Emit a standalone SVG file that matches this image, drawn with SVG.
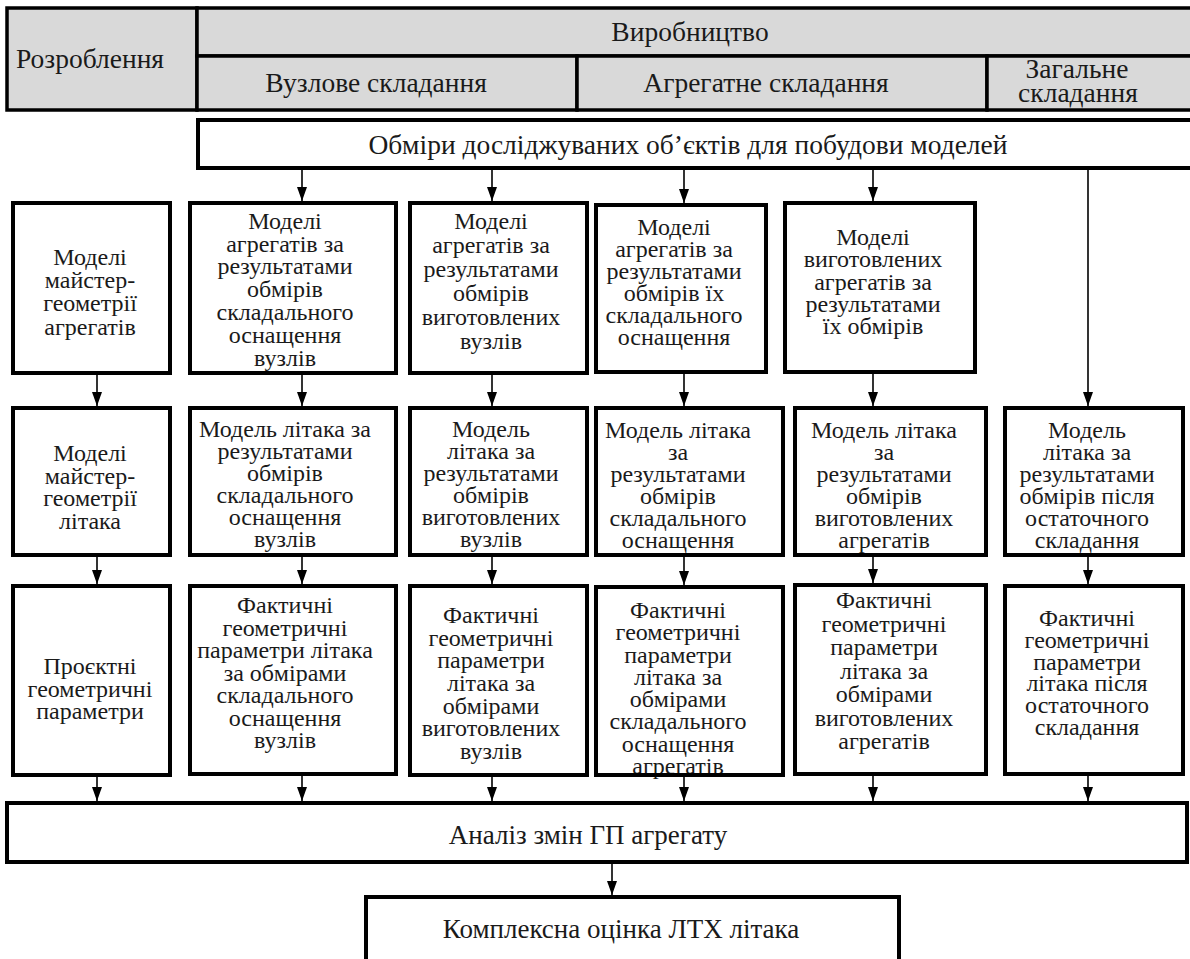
<svg xmlns="http://www.w3.org/2000/svg" width="1190" height="959" viewBox="0 0 1190 959" font-family="Liberation Serif, serif">
<style>
text{font-family:"Liberation Serif",serif;fill:#1a1a1a;text-anchor:middle}
.h{font-size:27.5px}
.t{font-size:24px}
.big{font-size:27px}
.hc{fill:#d9d9d9;stroke:#000;stroke-width:3.5}
.box{fill:#fff;stroke:#000;stroke-width:4}
.boxo{fill:none;stroke:#000;stroke-width:4}
.c{stroke:#000;stroke-width:1.6;fill:none;marker-end:url(#ah)}
</style>
<defs>
<marker id="ah" viewBox="0 0 14 10" refX="14" refY="5" markerWidth="14" markerHeight="10" markerUnits="userSpaceOnUse" orient="auto">
<path d="M0,0 L14,5 L0,10 z" fill="#000"/>
</marker>
</defs>
<rect width="1190" height="959" fill="#fff"/>

<g id="h-rozroblennya"><rect class="hc" x="7" y="8" width="190" height="102"/><text class="h" x="90" y="68">Розроблення</text></g>
<g id="h-vyrobnytstvo"><rect class="hc" x="197" y="8" width="1000" height="48"/><text class="h" x="690" y="41">Виробництво</text></g>
<g id="h-vuzlove"><rect class="hc" x="197" y="56" width="380" height="54"/><text class="h" x="376" y="92">Вузлове складання</text></g>
<g id="h-agregatne"><rect class="hc" x="577" y="56" width="410" height="54"/><text class="h" x="766" y="92">Агрегатне складання</text></g>
<g id="h-zagalne"><rect class="hc" x="987" y="56" width="210" height="54"/><text class="h"><tspan x="1077" y="78">Загальне</tspan><tspan x="1078" y="102">складання</tspan></text></g>

<g id="obmiry"><rect class="box" x="198" y="120" width="1000" height="48"/><text class="h" x="688" y="154">Обміри досліджуваних об’єктів для побудови моделей</text></g>

<g id="a1"><rect class="box" x="13" y="203" width="157" height="170"/><text class="t"><tspan x="90" y="265">Моделі</tspan><tspan x="90" y="288">майстер-</tspan><tspan x="90" y="311">геометрії</tspan><tspan x="90" y="335">агрегатів</tspan></text></g>
<g id="b1"><rect class="box" x="190" y="203" width="206" height="170"/><text class="t"><tspan x="285" y="229">Моделі</tspan><tspan x="285" y="252">агрегатів за</tspan><tspan x="285" y="274">результатами</tspan><tspan x="285" y="297">обмірів</tspan><tspan x="285" y="320">складального</tspan><tspan x="285" y="343">оснащення</tspan><tspan x="285" y="366">вузлів</tspan></text></g>
<g id="c1"><rect class="box" x="410" y="203" width="177" height="170"/><text class="t"><tspan x="491" y="229">Моделі</tspan><tspan x="491" y="253">агрегатів за</tspan><tspan x="491" y="277">результатами</tspan><tspan x="491" y="301">обмірів</tspan><tspan x="491" y="325">виготовлених</tspan><tspan x="491" y="349">вузлів</tspan></text></g>
<g id="d1"><rect class="box" x="596" y="205" width="170" height="167"/><text class="t"><tspan x="674" y="235">Моделі</tspan><tspan x="674" y="257">агрегатів за</tspan><tspan x="674" y="279">результатами</tspan><tspan x="674" y="301">обмірів їх</tspan><tspan x="674" y="323">складального</tspan><tspan x="674" y="345">оснащення</tspan></text></g>
<g id="e1"><rect class="box" x="785" y="203" width="190" height="169"/><text class="t"><tspan x="873" y="245">Моделі</tspan><tspan x="873" y="267">виготовлених</tspan><tspan x="873" y="290">агрегатів за</tspan><tspan x="873" y="312">результатами</tspan><tspan x="873" y="334">їх обмірів</tspan></text></g>

<g id="a2"><rect class="box" x="13" y="408" width="157" height="147"/><text class="t"><tspan x="90" y="461">Моделі</tspan><tspan x="90" y="484">майстер-</tspan><tspan x="90" y="506">геометрії</tspan><tspan x="90" y="529">літака</tspan></text></g>
<g id="b2"><rect class="box" x="190" y="408" width="206" height="147"/><text class="t"><tspan x="285" y="437">Модель літака за</tspan><tspan x="285" y="459">результатами</tspan><tspan x="285" y="481">обмірів</tspan><tspan x="285" y="503">складального</tspan><tspan x="285" y="525">оснащення</tspan><tspan x="285" y="547">вузлів</tspan></text></g>
<g id="c2"><rect class="box" x="410" y="408" width="177" height="147"/><text class="t"><tspan x="491" y="437">Модель</tspan><tspan x="491" y="459">літака за</tspan><tspan x="491" y="481">результатами</tspan><tspan x="491" y="503">обмірів</tspan><tspan x="491" y="525">виготовлених</tspan><tspan x="491" y="547">вузлів</tspan></text></g>
<g id="d2"><rect class="box" x="596" y="408" width="187" height="147"/><text class="t"><tspan x="678" y="438">Модель літака</tspan><tspan x="678" y="460">за</tspan><tspan x="678" y="482">результатами</tspan><tspan x="678" y="504">обмірів</tspan><tspan x="678" y="526">складального</tspan><tspan x="678" y="548">оснащення</tspan></text></g>
<g id="e2"><rect class="box" x="795" y="408" width="191" height="147"/><text class="t"><tspan x="884" y="438">Модель літака</tspan><tspan x="884" y="460">за</tspan><tspan x="884" y="482">результатами</tspan><tspan x="884" y="504">обмірів</tspan><tspan x="884" y="526">виготовлених</tspan><tspan x="884" y="548">агрегатів</tspan></text></g>
<g id="f2"><rect class="box" x="1005" y="408" width="178" height="147"/><text class="t"><tspan x="1087" y="438">Модель</tspan><tspan x="1087" y="460">літака за</tspan><tspan x="1087" y="482">результатами</tspan><tspan x="1087" y="504">обмірів після</tspan><tspan x="1087" y="526">остаточного</tspan><tspan x="1087" y="548">складання</tspan></text></g>

<g id="a3"><rect class="box" x="13" y="586" width="157" height="189"/><text class="t"><tspan x="90" y="674">Проєктні</tspan><tspan x="90" y="697">геометричні</tspan><tspan x="90" y="719">параметри</tspan></text></g>
<g id="b3"><rect class="box" x="190" y="586" width="206" height="188"/><text class="t"><tspan x="285" y="613">Фактичні</tspan><tspan x="285" y="635.5">геометричні</tspan><tspan x="285" y="658">параметри літака</tspan><tspan x="285" y="680.5">за обмірами</tspan><tspan x="285" y="703">складального</tspan><tspan x="285" y="725.5">оснащення</tspan><tspan x="285" y="748">вузлів</tspan></text></g>
<g id="c3"><rect class="box" x="410" y="586" width="177" height="189"/><text class="t"><tspan x="491" y="623">Фактичні</tspan><tspan x="491" y="645.7">геометричні</tspan><tspan x="491" y="668.3">параметри</tspan><tspan x="491" y="691">літака за</tspan><tspan x="491" y="713.7">обмірами</tspan><tspan x="491" y="736.3">виготовлених</tspan><tspan x="491" y="759">вузлів</tspan></text></g>
<g id="d3"><text class="t"><tspan x="678" y="618">Фактичні</tspan><tspan x="678" y="640.3">геометричні</tspan><tspan x="678" y="662.6">параметри</tspan><tspan x="678" y="684.9">літака за</tspan><tspan x="678" y="707.1">обмірами</tspan><tspan x="678" y="729.4">складального</tspan><tspan x="678" y="751.7">оснащення</tspan><tspan x="678" y="774">агрегатів</tspan></text><rect class="boxo" x="596" y="587" width="187" height="188"/></g>
<g id="e3"><rect class="box" x="795" y="585" width="191" height="189"/><text class="t"><tspan x="884" y="608">Фактичні</tspan><tspan x="884" y="631.5">геометричні</tspan><tspan x="884" y="655">параметри</tspan><tspan x="884" y="678.5">літака за</tspan><tspan x="884" y="702">обмірами</tspan><tspan x="884" y="725.5">виготовлених</tspan><tspan x="884" y="749">агрегатів</tspan></text></g>
<g id="f3"><rect class="box" x="1005" y="586" width="178" height="188"/><text class="t"><tspan x="1087" y="626">Фактичні</tspan><tspan x="1087" y="647.8">геометричні</tspan><tspan x="1087" y="669.6">параметри</tspan><tspan x="1087" y="691.4">літака після</tspan><tspan x="1087" y="713.2">остаточного</tspan><tspan x="1087" y="735">складання</tspan></text></g>

<g id="analiz"><rect class="box" x="7" y="803" width="1180" height="59"/><text class="big" x="588" y="844">Аналіз змін ГП агрегату</text></g>
<g id="otsinka"><rect class="box" x="366" y="897" width="533" height="70"/><text class="big" x="621" y="938">Комплексна оцінка ЛТХ літака</text></g>

<g id="connectors">
<line class="c" x1="302" y1="170" x2="302" y2="201"/>
<line class="c" x1="492" y1="170" x2="492" y2="201"/>
<line class="c" x1="684" y1="170" x2="684" y2="203"/>
<line class="c" x1="873" y1="170" x2="873" y2="201"/>
<line class="c" x1="1088" y1="170" x2="1088" y2="406"/>
<line class="c" x1="97" y1="375" x2="97" y2="406"/>
<line class="c" x1="302" y1="375" x2="302" y2="406"/>
<line class="c" x1="492" y1="375" x2="492" y2="406"/>
<line class="c" x1="684" y1="374" x2="684" y2="406"/>
<line class="c" x1="873" y1="374" x2="873" y2="406"/>
<line class="c" x1="97" y1="557" x2="97" y2="584"/>
<line class="c" x1="302" y1="557" x2="302" y2="584"/>
<line class="c" x1="492" y1="557" x2="492" y2="584"/>
<line class="c" x1="684" y1="557" x2="684" y2="585"/>
<line class="c" x1="873" y1="557" x2="873" y2="583"/>
<line class="c" x1="1088" y1="557" x2="1088" y2="584"/>
<line class="c" x1="97" y1="777" x2="97" y2="801"/>
<line class="c" x1="302" y1="776" x2="302" y2="801"/>
<line class="c" x1="492" y1="777" x2="492" y2="801"/>
<line class="c" x1="684" y1="777" x2="684" y2="801"/>
<line class="c" x1="873" y1="776" x2="873" y2="801"/>
<line class="c" x1="1088" y1="776" x2="1088" y2="801"/>
<line class="c" x1="612" y1="864" x2="612" y2="895"/>
</g>
</svg>
